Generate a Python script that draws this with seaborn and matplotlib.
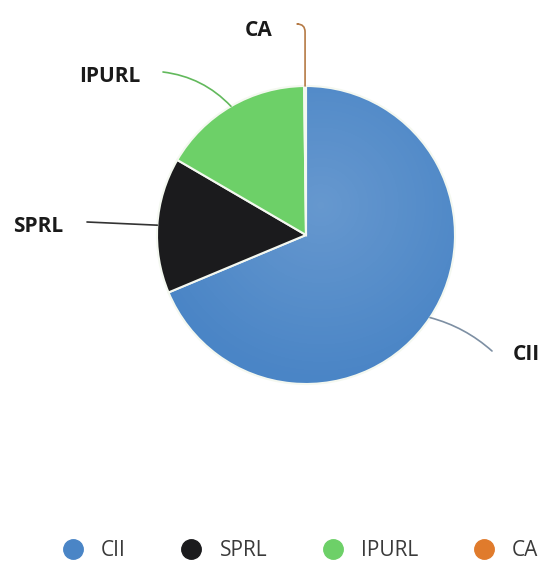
import seaborn as sns
import matplotlib.pyplot as plt
import numpy as np
from matplotlib.lines import Line2D

# Data (share of total, %)
categories = ["CII", "SPRL", "IPURL", "CA"]
shares = [68.7, 14.7, 16.4, 0.2]
colors = ["#4a85c6", "#1b1b1d", "#6dd068", "#e07b2c"]
line_colors = ["#7d8fa3", "#333333", "#62b95c", "#b57a45"]

sns.set_theme(style="white")
plt.rcParams["font.family"] = ["Open Sans", "DejaVu Sans"]

# 548x570 px figure, axes in pixel-like units (y measured from the bottom)
fig = plt.figure(figsize=(5.48, 5.70), dpi=100)
ax = fig.add_axes([0, 0, 1, 1])
H = 570

cx, cy, r = 306, H - 235, 149
wedges, _ = ax.pie(
    shares,
    colors=colors,
    startangle=90,
    counterclock=False,
    center=(cx, cy),
    radius=r,
    frame=True,
    wedgeprops=dict(edgecolor="#f4f8f0", linewidth=1.5),
)

# soft radial highlight like the original's glossy look
yy, xx = np.mgrid[-1:1:300j, -1:1:300j]
d = np.sqrt((xx - 0.1) ** 2 + (yy - 0.2) ** 2)
glow = np.zeros((300, 300, 4))
glow[..., :3] = 1.0
glow[..., 3] = np.clip(0.16 * (1 - d / 1.2), 0, None)
im = ax.imshow(glow, extent=(cx - r, cx + r, cy - r, cy + r), origin="lower",
               zorder=3, interpolation="bilinear")
im.set_clip_path(wedges[0])

# label anchors, leader-line ends and connection styles
labels = {
    "CII": ((513, H - 354), "left", (492, H - 351), "arc3,rad=0.12"),
    "SPRL": ((63, H - 226), "right", (87, H - 222), "arc3,rad=0.0"),
    "IPURL": ((140, H - 77), "right", (163, H - 72), "arc3,rad=-0.18"),
    "CA": ((272, H - 31), "right", (298, H - 24), "angle,angleA=0,angleB=90,rad=8"),
}

for w, name, lc in zip(wedges, categories, line_colors):
    mid = np.deg2rad((w.theta1 + w.theta2) / 2)
    px, py = cx + r * np.cos(mid), cy + r * np.sin(mid)
    (tx, ty), ha, (ex, ey), cs = labels[name]
    ax.annotate(
        "", xy=(px, py), xytext=(ex, ey),
        arrowprops=dict(arrowstyle="-", color=lc, lw=1.2,
                        connectionstyle=cs, shrinkA=0, shrinkB=0),
        zorder=4,
    )
    ax.text(tx, ty, name, ha=ha, va="center", fontsize=15,
            fontweight="bold", color="#1a1a1a")

ax.set_xlim(0, 548)
ax.set_ylim(0, H)
ax.set_aspect("equal")
ax.axis("off")

handles = [Line2D([0], [0], marker="o", linestyle="", markersize=14,
                  markerfacecolor=c, markeredgecolor=c) for c in colors]
leg = fig.legend(handles, categories, loc="center left",
                 bbox_to_anchor=(52 / 548, 1 - 551 / H),
                 ncol=4, frameon=False, columnspacing=2.15,
                 prop=dict(size=15),
                 handletextpad=0.35, borderaxespad=0, borderpad=0)
for t in leg.get_texts():
    t.set_color("#3a3a3a")

fig.savefig("out.png", dpi=100)
